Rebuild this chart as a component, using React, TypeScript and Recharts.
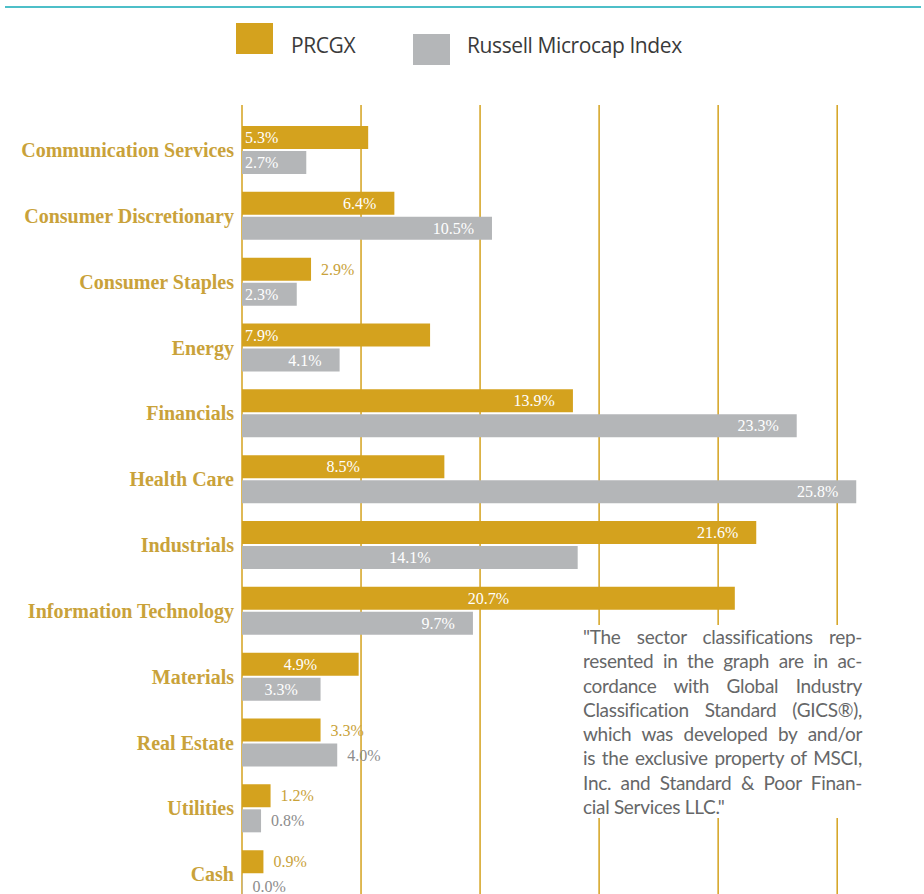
import React from "react";
import { BarChart, Bar, XAxis, YAxis, CartesianGrid, LabelList } from "recharts";

// Sector weights (%)
const sectors = [
  "Communication Services",
  "Consumer Discretionary",
  "Consumer Staples",
  "Energy",
  "Financials",
  "Health Care",
  "Industrials",
  "Information Technology",
  "Materials",
  "Real Estate",
  "Utilities",
  "Cash",
];
const prcgx = [5.3, 6.4, 2.9, 7.9, 13.9, 8.5, 21.6, 20.7, 4.9, 3.3, 1.2, 0.9];
const russell = [2.7, 10.5, 2.3, 4.1, 23.3, 25.8, 14.1, 9.7, 3.3, 4.0, 0.8, 0.0];
const xTicks = [0, 5, 10, 15, 20, 25];

// where each value label sits on its bar
const prcgxLabelPos = ["start", "end", "outside", "start", "end", "center", "end", "center", "center", "outside", "outside", "outside"];
const russellLabelPos = ["start", "end", "start", "end", "end", "end", "center", "end", "center", "outside", "outside", "outside"];

const noteLines = [
  "\"The sector classifications rep-",
  "resented in the graph are in ac-",
  "cordance with Global Industry",
  "Classification Standard (GICS®),",
  "which was developed by and/or",
  "is the exclusive property of MSCI,",
  "Inc. and Standard & Poor Finan-",
  "cial Services LLC.\"",
];

const GOLD = "#d4a21e";
const GREY = "#b4b6b8";
const LABEL_GOLD = "#c9a23a";

const data = sectors.map((name, i) => ({ name, prcgx: prcgx[i], russell: russell[i] }));

const makeLabel = (positions: string[], outsideColor: string) => (props: any) => {
  const { x, y, width, height, value, index } = props;
  const pos = positions[index];
  const cy = y + height / 2;
  let tx = x + 3;
  let anchor: "start" | "middle" | "end" = "start";
  let fill = "#ffffff";
  if (pos === "end") {
    tx = x + width - 18;
    anchor = "end";
  } else if (pos === "center") {
    tx = x + width / 2;
    anchor = "middle";
  } else if (pos === "outside") {
    tx = x + width + 10;
    fill = outsideColor;
  }
  return (
    <text
      x={tx}
      y={cy}
      dy="0.35em"
      textAnchor={anchor}
      fill={fill}
      fontFamily="'Liberation Serif', serif"
      fontSize={16}
    >
      {`${Number(value).toFixed(1)}%`}
    </text>
  );
};

const legendText: React.CSSProperties = {
  position: "absolute",
  top: 31,
  fontFamily: "'Open Sans', sans-serif",
  fontSize: 21,
  color: "#3a3a3a",
  letterSpacing: -0.4,
};

export default function App() {
  return (
    <div
      style={{
        position: "absolute",
        left: 0,
        top: 0,
        width: 924,
        height: 894,
        overflow: "hidden",
        background: "#ffffff",
      }}
    >
      {/* top rule */}
      <div style={{ position: "absolute", left: 5, top: 6, width: 916, height: 2, background: "#4dbfc8" }} />

      {/* legend */}
      <div style={{ position: "absolute", left: 236, top: 23, width: 37, height: 31, background: GOLD }} />
      <div style={{ ...legendText, left: 291 }}>PRCGX</div>
      <div style={{ position: "absolute", left: 413, top: 34, width: 37, height: 31, background: GREY }} />
      <div style={{ ...legendText, left: 467 }}>Russell Microcap Index</div>

      <div style={{ position: "absolute", left: 0, top: 0 }}>
        <BarChart
          width={924}
          height={907}
          data={data}
          layout="vertical"
          margin={{ top: 105, right: 63, bottom: 0, left: 0 }}
          barSize={23}
          barGap={2}
        >
          <CartesianGrid horizontal={false} stroke={GOLD} strokeWidth={1.5} syncWithTicks />
          <XAxis type="number" domain={[0, 26]} ticks={xTicks} hide />
          <YAxis
            type="category"
            dataKey="name"
            width={242}
            axisLine={false}
            tickLine={false}
            padding={{ top: 12, bottom: 0 }}
            interval={0}
            tick={{
              fill: LABEL_GOLD,
              fontFamily: "'Liberation Serif', serif",
              fontWeight: 700,
              fontSize: 20,
            }}
          />
          <Bar dataKey="prcgx" fill={GOLD} isAnimationActive={false}>
            <LabelList dataKey="prcgx" content={makeLabel(prcgxLabelPos, LABEL_GOLD)} />
          </Bar>
          <Bar dataKey="russell" fill={GREY} minPointSize={0.5} isAnimationActive={false}>
            <LabelList dataKey="russell" content={makeLabel(russellLabelPos, "#8c8c8c")} />
          </Bar>
        </BarChart>
      </div>

      {/* GICS note */}
      <div
        style={{
          position: "absolute",
          left: 576,
          top: 625,
          width: 294,
          height: 193,
          background: "#ffffff",
        }}
      >
        <div
          style={{
            position: "absolute",
            left: 7,
            top: 0,
            width: 279,
            fontFamily: "Lato, sans-serif",
            fontSize: 19,
            lineHeight: "24.3px",
            color: "#666768",
            letterSpacing: -0.3,
          }}
        >
          {noteLines.map((line, i) => (
            <div
              key={i}
              style={{
                whiteSpace: "nowrap",
                textAlign: "justify",
                textAlignLast: i === noteLines.length - 1 ? "left" : "justify",
              }}
            >
              {line}
            </div>
          ))}
        </div>
      </div>
    </div>
  );
}
